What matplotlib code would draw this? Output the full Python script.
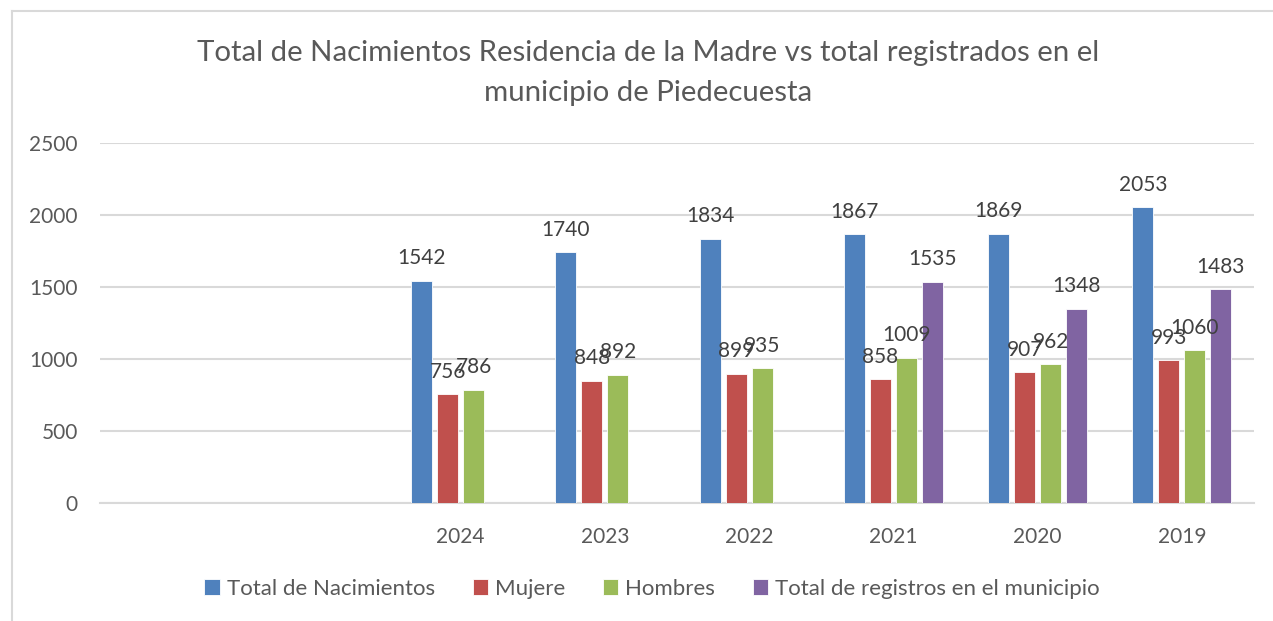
import numpy as np
import matplotlib
matplotlib.use("Agg")
import matplotlib.pyplot as plt
from matplotlib.lines import Line2D

plt.rcParams['font.family'] = ['Lato', 'DejaVu Sans']

# two leading empty categories, then the years
years = ["", "", "2024", "2023", "2022", "2021", "2020", "2019"]
total_nacimientos = [np.nan, np.nan, 1542, 1740, 1834, 1867, 1869, 2053]
mujere = [np.nan, np.nan, 756, 848, 899, 858, 907, 993]
hombres = [np.nan, np.nan, 786, 892, 935, 1009, 962, 1060]
total_registros = [np.nan, np.nan, np.nan, np.nan, np.nan, 1535, 1348, 1483]

series = [
    ("Total de Nacimientos", total_nacimientos, "#4F81BD"),
    ("Mujere", mujere, "#C0504D"),
    ("Hombres", hombres, "#9BBB59"),
    ("Total de registros en el municipio", total_registros, "#8064A2"),
]

text_col = "#595959"
grid_col = "#D9D9D9"

fig = plt.figure(figsize=(12.73, 6.21), dpi=100)
W, H = 1273, 621
ax = fig.add_axes([100 / W, 1 - 503 / H, (1254 - 100) / W, (503 - 143) / H])

x = np.arange(len(years))
pitch = 0.18
width = 0.146
for i, (name, vals, col) in enumerate(series):
    pos = x + (i - 1.5) * pitch
    ax.bar(pos, vals, width=width, color=col, edgecolor="white",
           linewidth=0.6, label=name, zorder=3)
    for xp, v in zip(pos, vals):
        if not np.isnan(v):
            ax.annotate(f"{int(v)}", (xp, v), xytext=(0, 9),
                        textcoords="offset points", ha="center", va="bottom",
                        fontsize=15, color="#404040", zorder=4)

ax.set_xlim(-0.5, len(years) - 0.5)
ax.set_ylim(0, 2500)
ax.set_yticks(np.arange(0, 2501, 500))
ax.set_xticks(x)
ax.set_xticklabels(years)
ax.yaxis.grid(True, color=grid_col, linewidth=1.5, zorder=0)
ax.tick_params(axis="both", length=0, labelsize=15, labelcolor=text_col)
ax.tick_params(axis="x", pad=17)
ax.tick_params(axis="y", pad=16)
for s in ["top", "right", "left"]:
    ax.spines[s].set_visible(False)
ax.spines["bottom"].set_color(grid_col)
ax.spines["bottom"].set_linewidth(1.5)

fig.text(648 / W, 1 - 53 / H,
         "Total de Nacimientos Residencia de la Madre vs total registrados en el",
         ha="center", va="center", fontsize=21.2, color=text_col)
fig.text(648 / W, 1 - 93 / H, "municipio de Piedecuesta",
         ha="center", va="center", fontsize=21.2, color=text_col)

handles, labels = ax.get_legend_handles_labels()
leg = fig.legend(handles, labels, loc="center", bbox_to_anchor=(652 / W, 1 - 589 / H),
                 ncol=4, frameon=False, fontsize=16, handlelength=0.7,
                 handleheight=0.7, handletextpad=0.3, columnspacing=1.7)
for t in leg.get_texts():
    t.set_color(text_col)

# chart area border (left and top edges)
fig.add_artist(Line2D([12 / W, 12 / W], [0, 1 - 11 / H], color=grid_col, linewidth=1.5))
fig.add_artist(Line2D([12 / W, 1], [1 - 11 / H, 1 - 11 / H], color=grid_col, linewidth=1.5))

fig.savefig("out.png", dpi=100, facecolor="white")
